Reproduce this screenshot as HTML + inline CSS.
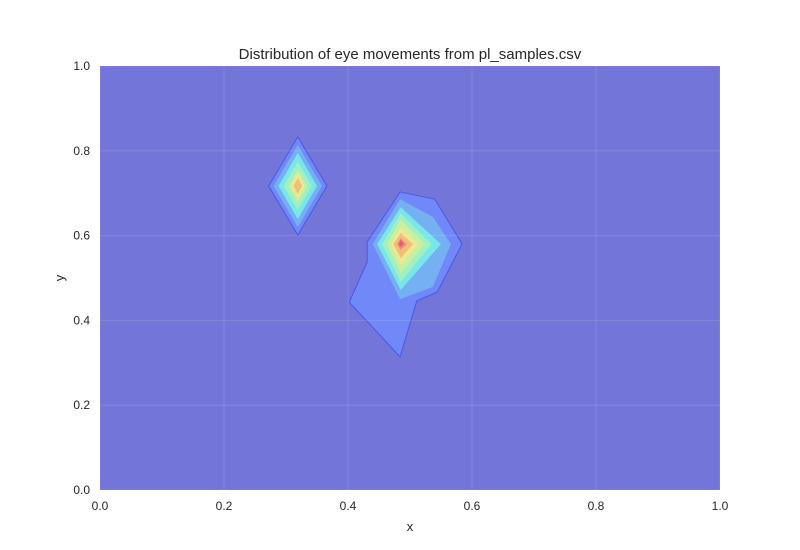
<!DOCTYPE html>
<html><head><meta charset="utf-8"><style>
body{margin:0;background:#fff;}
svg{display:block;font-family:"Liberation Sans",Arial,sans-serif;}
</style></head><body>
<svg id="chart" width="800" height="550" viewBox="0 0 800 550">
<text x="410" y="59" text-anchor="middle" font-size="15" fill="#262626">Distribution of eye movements from pl_samples.csv</text>
<rect x="100" y="66" width="620" height="424" fill="#7475d8"/>
<g id="contours"></g>
<g id="grid"></g>
<g id="xticks"></g>
<g id="yticks"></g>
<text x="410" y="531" text-anchor="middle" font-size="13" fill="#262626">x</text>
<text x="64" y="278" text-anchor="middle" font-size="13" fill="#262626" transform="rotate(-90 64 278)">y</text>
</svg>
<script>
const tickValues=[0,0.2,0.4,0.6,0.8,1.0];
const tickLabels=["0.0","0.2","0.4","0.6","0.8","1.0"];
const levelColors=["#7088f8","#74b0f2","#79e6ea","#a0f0c0","#c8f0a0","#f0e890","#f0c078","#f08c78","#d86070"];
const leftCenter=[0.319,0.717];
const leftHalfW=[0.047,0.039,0.031,0.023,0.015,0.011,0.007];
const leftHalfH=[0.116,0.097,0.078,0.057,0.038,0.031,0.019];
const rightOuterX=[0.484,0.540,0.584,0.544,0.511,0.484,0.402,0.431,0.431];
const rightOuterY=[0.703,0.686,0.580,0.467,0.446,0.314,0.443,0.538,0.585];
const rightLevel2X=[0.484,0.537,0.566,0.537,0.484,0.440];
const rightLevel2Y=[0.686,0.644,0.580,0.479,0.450,0.580];
const rightCenter=[0.485,0.580];
const rightTop=[0.667,0.653,0.637,0.620,0.606,0.594,0.590];
const rightRight=[0.550,0.535,0.524,0.513,0.505,0.495,0.490];
const rightBottom=[0.472,0.491,0.512,0.531,0.547,0.566,0.573];
const rightLeft=[0.447,0.455,0.463,0.469,0.473,0.479,0.482];

const NS="http://www.w3.org/2000/svg";
const X=v=>100+620*v, Y=v=>490-424*v;
const cont=document.getElementById('contours');
function poly(xs,ys,color,stroke,name){
  const p=document.createElementNS(NS,'polygon');
  p.setAttribute('points',xs.map((x,i)=>X(x)+','+Y(ys[i])).join(' '));
  p.setAttribute('fill',color);
  if(stroke){p.setAttribute('stroke',stroke);p.setAttribute('stroke-width','1');}
  
  
  cont.appendChild(p);
}
leftHalfW.forEach((w,i)=>{
  const h=leftHalfH[i],cx=leftCenter[0],cy=leftCenter[1];
  poly([cx,cx+w,cx,cx-w],[cy+h,cy,cy-h,cy],levelColors[i],i===0?"#4858e8":null,'left-contour-level-'+i);
});
poly(rightOuterX,rightOuterY,levelColors[0],"#4858e8",'right-contour-level-0');
poly(rightLevel2X,rightLevel2Y,levelColors[1],null,'right-contour-level-1');
rightTop.forEach((t,i)=>{
  const cx=rightCenter[0],cy=rightCenter[1];
  poly([cx,rightRight[i],cx,rightLeft[i]],[t,cy,rightBottom[i],cy],levelColors[i+2],null,'right-contour-level-'+(i+2));
});
const grid=document.getElementById('grid'),xt=document.getElementById('xticks'),yt=document.getElementById('yticks');
tickValues.forEach((v,i)=>{
  const gx=document.createElementNS(NS,'line');
  gx.setAttribute('x1',X(v));gx.setAttribute('x2',X(v));gx.setAttribute('y1',66);gx.setAttribute('y2',490);
  gx.setAttribute('stroke','rgba(255,255,255,0.12)');
  
  
  grid.appendChild(gx);
  const gy=document.createElementNS(NS,'line');
  gy.setAttribute('y1',Y(v));gy.setAttribute('y2',Y(v));gy.setAttribute('x1',100);gy.setAttribute('x2',720);
  gy.setAttribute('stroke','rgba(255,255,255,0.12)');
  
  
  grid.appendChild(gy);
  const tx=document.createElementNS(NS,'text');
  tx.setAttribute('x',X(v));tx.setAttribute('y',510);tx.setAttribute('text-anchor','middle');
  tx.setAttribute('font-size','12');tx.setAttribute('fill','#262626');tx.textContent=tickLabels[i];
  
  
  xt.appendChild(tx);
  const ty=document.createElementNS(NS,'text');
  ty.setAttribute('x',90);ty.setAttribute('y',Y(v)+4);ty.setAttribute('text-anchor','end');
  ty.setAttribute('font-size','12');ty.setAttribute('fill','#262626');ty.textContent=tickLabels[i];
  
  
  yt.appendChild(ty);
});
</script>
</body></html>
